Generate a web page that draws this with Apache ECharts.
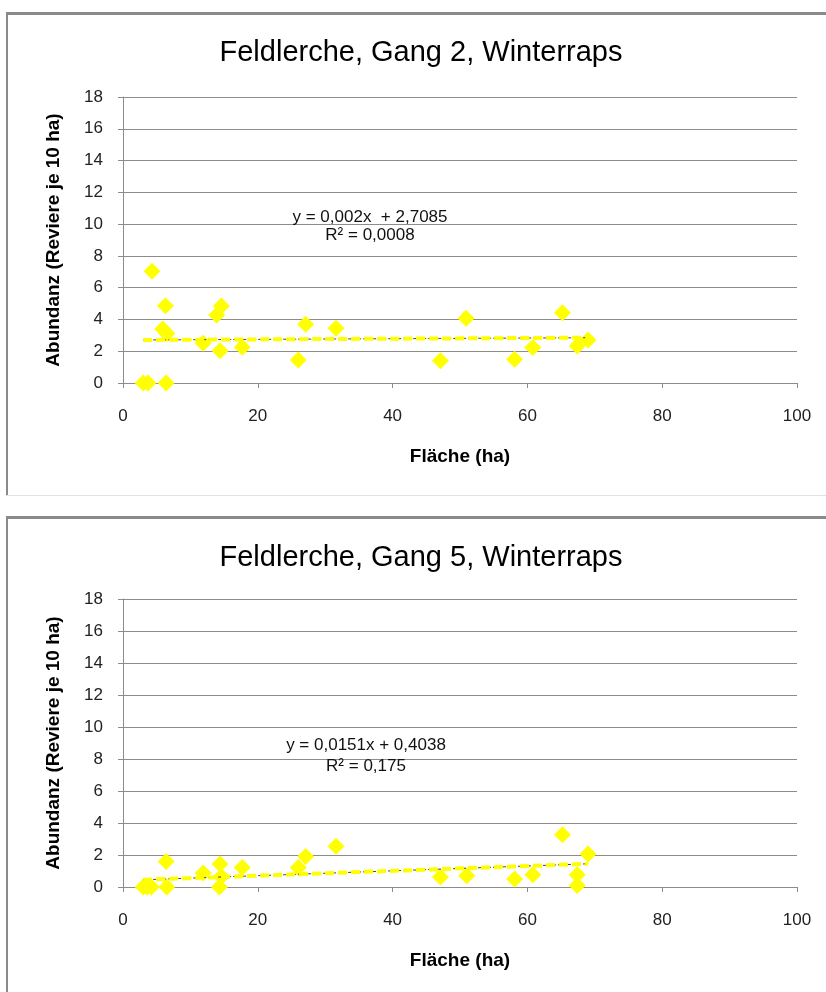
<!DOCTYPE html>
<html><head><meta charset="utf-8">
<script src="https://cdn.jsdelivr.net/npm/echarts@6/dist/echarts.min.js"></script>
<style>html,body{margin:0;padding:0;background:#fff}#c{width:826px;height:992px}</style>
</head><body><div id="c"></div>
<script>
// ---- data ----
const titles = ['Feldlerche, Gang 2, Winterraps', 'Feldlerche, Gang 5, Winterraps'];
const xTicks = [0, 20, 40, 60, 80, 100];
const yTicks = [0, 2, 4, 6, 8, 10, 12, 14, 16, 18];
const xAxisTitle = 'Fläche (ha)';
const yAxisTitle = 'Abundanz (Reviere je 10 ha)';
const gang2Points = [
  [3.0, 0], [3.7, 0], [6.4, 0], [4.3, 7.04], [6.3, 4.86], [5.9, 3.4], [6.5, 3.12],
  [11.9, 2.5], [13.9, 4.28], [14.6, 4.84], [14.4, 2.03], [17.7, 2.25], [26.0, 1.45],
  [27.1, 3.69], [31.6, 3.44], [47.1, 1.40], [50.9, 4.07], [58.1, 1.49], [60.8, 2.24],
  [65.2, 4.42], [67.4, 2.33], [69.0, 2.70]
];
const gang5Points = [
  [3.0, 0], [3.6, 0], [4.2, 0], [6.4, 1.6], [6.5, 0], [11.9, 0.87], [14.4, 1.44],
  [14.3, 0], [14.6, 0.66], [17.7, 1.22], [26.0, 1.22], [27.1, 1.91], [31.6, 2.54],
  [47.1, 0.62], [51.0, 0.71], [58.1, 0.5], [60.8, 0.77], [65.2, 3.27], [67.4, 0.77],
  [67.4, 0.1], [69.0, 2.06]
];
const gang2Trend = [[3.0, 2.71], [69.0, 2.85]];
const gang5Trend = [[3.0, 0.45], [69.0, 1.45]];
const gang2Eq = ['y = 0,002x  + 2,7085', 'R² = 0,0008'];
const gang5Eq = ['y = 0,0151x + 0,4038', 'R² = 0,175'];

// ---- chart ----
const FONT = '"Liberation Sans", Arial, sans-serif';
const chart = echarts.init(document.getElementById('c'), null, {renderer: 'canvas'});
const grids = [
  {left: 123, top: 97, width: 674, height: 286},
  {left: 123, top: 599, width: 674, height: 288}
];
function xAxis(i) {
  return {
    type: 'value', gridIndex: i, min: xTicks[0], max: xTicks[xTicks.length - 1], interval: xTicks[1] - xTicks[0],
    axisLine: {show: true, lineStyle: {color: '#8c8c8c', width: 1}},
    axisTick: {show: true, inside: false, length: 5, lineStyle: {color: '#8c8c8c'}},
    splitLine: {show: false},
    axisLabel: {margin: 25, fontFamily: FONT, fontSize: 17, color: '#222'},
    name: xAxisTitle, nameLocation: 'middle', nameGap: 64,
    nameTextStyle: {fontFamily: FONT, fontSize: 19, fontWeight: 'bold', color: '#000'}
  };
}
function yAxis(i) {
  return {
    type: 'value', gridIndex: i, min: yTicks[0], max: yTicks[yTicks.length - 1], interval: yTicks[1] - yTicks[0],
    axisLine: {show: true, lineStyle: {color: '#8c8c8c', width: 1}},
    axisTick: {show: true, inside: false, length: 5, lineStyle: {color: '#8c8c8c'}},
    splitLine: {show: true, lineStyle: {color: '#8c8c8c', width: 1}},
    axisLabel: {margin: 20, fontFamily: FONT, fontSize: 17, color: '#222'},
    name: yAxisTitle, nameLocation: 'middle', nameGap: 60, nameRotate: 90,
    nameTextStyle: {fontFamily: FONT, fontSize: 19, fontWeight: 'bold', color: '#000'}
  };
}
function scatter(i, data) {
  return {type: 'scatter', xAxisIndex: i, yAxisIndex: i, data: data, symbol: 'diamond',
    symbolSize: 17, itemStyle: {color: '#ffff00', opacity: 1}, z: 3, silent: true};
}
function trend(i, data) {
  return [
    {type: 'line', xAxisIndex: i, yAxisIndex: i, data: data, symbol: 'none', z: 4,
      lineStyle: {color: '#444', width: 1, type: [3, 2]}, silent: true},
    {type: 'line', xAxisIndex: i, yAxisIndex: i, data: data, symbol: 'none', z: 5,
      lineStyle: {color: '#ffff00', width: 4, type: [9, 4]}, silent: true}
  ];
}
function frame(top, bottom) {
  return [
    {type: 'line', shape: {x1: 6, y1: top, x2: 826, y2: top}, style: {stroke: '#8a8a8a', lineWidth: 3}},
    {type: 'line', shape: {x1: 7, y1: top, x2: 7, y2: bottom}, style: {stroke: '#8a8a8a', lineWidth: 2}},
    {type: 'line', shape: {x1: 6, y1: bottom, x2: 826, y2: bottom}, style: {stroke: '#e2e2e2', lineWidth: 1}}
  ];
}
function eqText(lines, x, y1, y2) {
  const st = {fontFamily: FONT, fontSize: 17, fill: '#111', textAlign: 'center', textVerticalAlign: 'middle'};
  return [
    {type: 'text', x: x, y: y1, style: Object.assign({text: lines[0]}, st), z: 10},
    {type: 'text', x: x, y: y2, style: Object.assign({text: lines[1]}, st), z: 10}
  ];
}
chart.setOption({
  animation: false,
  title: [
    {text: titles[0], left: 416, top: 48, textAlign: 'center', textVerticalAlign: 'middle',
      textStyle: {fontFamily: FONT, fontSize: 29, fontWeight: 'normal', color: '#000'}},
    {text: titles[1], left: 416, top: 553, textAlign: 'center', textVerticalAlign: 'middle',
      textStyle: {fontFamily: FONT, fontSize: 29, fontWeight: 'normal', color: '#000'}}
  ],
  grid: grids,
  xAxis: [xAxis(0), xAxis(1)],
  yAxis: [yAxis(0), yAxis(1)],
  series: [scatter(0, gang2Points), ...trend(0, gang2Trend), scatter(1, gang5Points), ...trend(1, gang5Trend)],
  graphic: [
    ...frame(13.5, 495.5), ...frame(517.5, 1000),
    ...eqText(gang2Eq, 370, 217, 235),
    ...eqText(gang5Eq, 366, 745, 766)
  ]
});
</script>
</body></html>
